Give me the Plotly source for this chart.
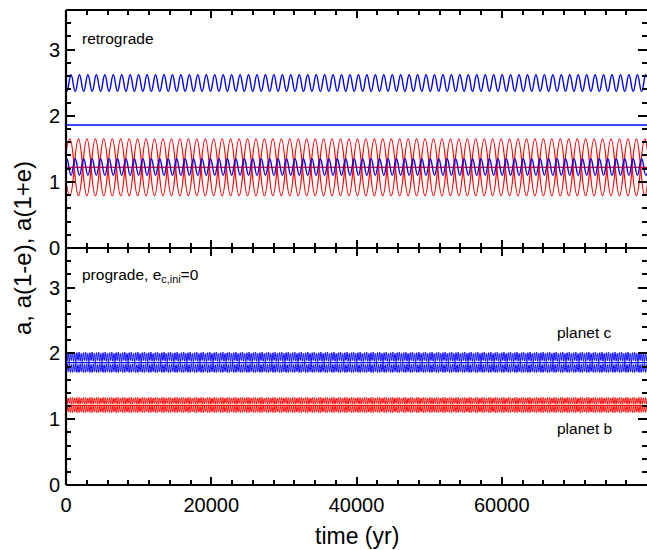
import plotly.graph_objects as go

# ---------------- data ----------------
x_tick_vals = [0, 20000, 40000, 60000]
x_tick_text = ["0", "20000", "40000", "60000"]
y_tick_vals = [0, 1, 2, 3]
y_tick_text = ["0", "1", "2", "3"]

# Retrograde panel: successive extremes (every half oscillation)
retro_c_half_period = 582        # yr between successive extremes, planet c
retro_c_n_half = 140
retro_c_apo_ext = [2.62, 2.37]   # planet c, a(1+e)
retro_c_peri_ext = [1.10, 1.35]  # planet c, a(1-e)
retro_c_a = [1.86, 1.86]         # planet c, a
retro_b_half_period = 1164       # yr between successive extremes, planet b
retro_b_n_half = 72
retro_b_apo_ext = [1.65, 0.79]   # planet b, a(1+e)
retro_b_peri_ext = [0.79, 1.65]  # planet b, a(1-e)
retro_b_a = [1.22, 1.22]         # planet b, a
time_span = [0, 80000]

# Prograde panel (e_c,ini = 0): fast oscillations forming bands
pro_half_period = 150
pro_n_half = 540
pro_c_apo_ext = [2.02, 1.88, 2.00, 1.87, 2.01, 1.89]
pro_c_peri_ext = [1.71, 1.84, 1.72, 1.85, 1.71, 1.83]
pro_c_a = [1.86, 1.86]
pro_b_apo_ext = [1.33, 1.23, 1.32, 1.24, 1.33, 1.23]
pro_b_peri_ext = [1.10, 1.20, 1.11, 1.21, 1.10, 1.20]
pro_b_a = [1.21, 1.21]

BLUE = "#0000ff"
RED = "#ff0000"
FONT = "Liberation Sans"


def rep(ext, n):
    out = []
    while len(out) < n:
        out.extend(ext)
    return out[:n]


fig = go.Figure()


def osc(y_ext, n, x0, dx, color, xa, ya, width=1.2):
    fig.add_trace(go.Scatter(
        x0=x0, dx=dx, y=rep(y_ext, n), mode="lines",
        line=dict(color=color, width=width, shape="spline", smoothing=1.3),
        xaxis=xa, yaxis=ya, showlegend=False, hoverinfo="skip"))


def flat(y_vals, color, xa, ya, width=1.2):
    fig.add_trace(go.Scatter(
        x=time_span, y=y_vals, mode="lines",
        line=dict(color=color, width=width),
        xaxis=xa, yaxis=ya, showlegend=False, hoverinfo="skip"))


# top panel (retrograde) -> x2 / y2
osc(retro_b_apo_ext, retro_b_n_half, -614, retro_b_half_period, RED, "x2", "y2")
osc(retro_b_peri_ext, retro_b_n_half, -614, retro_b_half_period, RED, "x2", "y2")
flat(retro_b_a, RED, "x2", "y2")
osc(retro_c_apo_ext, retro_c_n_half, -474, retro_c_half_period, BLUE, "x2", "y2", width=1.4)
osc(retro_c_peri_ext, retro_c_n_half, -474, retro_c_half_period, BLUE, "x2", "y2", width=1.4)
flat(retro_c_a, BLUE, "x2", "y2", width=1.4)

# bottom panel (prograde) -> x / y
osc(pro_c_apo_ext, pro_n_half, 0, pro_half_period, BLUE, "x", "y", width=1.0)
osc(pro_c_peri_ext, pro_n_half, 0, pro_half_period, BLUE, "x", "y", width=1.0)
flat(pro_c_a, BLUE, "x", "y", width=1.2)
osc(pro_b_apo_ext, pro_n_half, 0, pro_half_period, RED, "x", "y", width=1.0)
osc(pro_b_peri_ext, pro_n_half, 0, pro_half_period, RED, "x", "y", width=1.0)
flat(pro_b_a, RED, "x", "y", width=1.2)

split = 237 / 475

tickfont = dict(family=FONT, size=20, color="black")
common_x = dict(range=time_span, ticks="inside", ticklen=8, tickwidth=1.5,
                tickcolor="black", showline=False, mirror="ticks",
                showgrid=False, zeroline=False, automargin=False,
                tickmode="array", tickvals=x_tick_vals, ticktext=x_tick_text,
                minor=dict(dtick=20000 / 7, tick0=0, ticks="inside", ticklen=5,
                           tickwidth=1.5, tickcolor="black"))
common_y = dict(range=[0, 3.6], ticks="inside", ticklen=9, tickwidth=1.5,
                tickcolor="black", showline=False, mirror="ticks",
                showgrid=False, zeroline=False, automargin=False,
                tickmode="array", tickvals=y_tick_vals, ticktext=y_tick_text,
                tickfont=tickfont, ticklabelstandoff=5,
                minor=dict(dtick=0.2, tick0=0, ticks="inside", ticklen=5,
                           tickwidth=1.5, tickcolor="black"))

fig.update_layout(
    width=647, height=550,
    margin=dict(l=66, r=0, t=10, b=65, autoexpand=False),
    paper_bgcolor="white", plot_bgcolor="white",
    xaxis=dict(domain=[0, 1], anchor="y", showticklabels=True,
               tickfont=tickfont, ticklabelstandoff=6, **common_x),
    xaxis2=dict(domain=[0, 1], anchor="y2", matches="x", showticklabels=False,
                **common_x),
    yaxis=dict(domain=[0, split], anchor="x", **common_y),
    yaxis2=dict(domain=[split, 1], anchor="x2", **common_y),
)

# frame lines
for (x0, y0, x1, y1) in [(0, 0, 0, 1), (0, 1, 1, 1), (0, split, 1, split), (0, 0, 1, 0)]:
    fig.add_shape(type="line", xref="paper", yref="paper", x0=x0, y0=y0, x1=x1, y1=y1,
                  line=dict(color="black", width=2.2), layer="above")

annfont = dict(family=FONT, size=15.5, color="black")
fig.add_annotation(xref="paper", yref="paper", x=0.024, y=(485 - 38) / 475,
                   text="retrograde", showarrow=False, xanchor="left", yanchor="middle",
                   font=annfont)
fig.add_annotation(xref="paper", yref="paper", x=0.024, y=(485 - 275) / 475,
                   text="prograde, e<sub>c,ini</sub>=0", showarrow=False,
                   xanchor="left", yanchor="middle", font=annfont)
fig.add_annotation(xref="paper", yref="paper", x=(614 - 66) / 581, y=(485 - 333) / 475,
                   text="planet c", showarrow=False, xanchor="right", yanchor="middle",
                   font=annfont)
fig.add_annotation(xref="paper", yref="paper", x=(614 - 66) / 581, y=(485 - 428) / 475,
                   text="planet b", showarrow=False, xanchor="right", yanchor="middle",
                   font=annfont)
fig.add_annotation(xref="paper", yref="paper", x=0.5, y=(485 - 536) / 475,
                   text="time (yr)", showarrow=False, xanchor="center", yanchor="middle",
                   font=dict(family=FONT, size=23, color="black"))
fig.add_annotation(xref="paper", yref="paper", x=(22 - 66) / 581, y=(485 - 248) / 475,
                   text="a, a(1-e), a(1+e)", showarrow=False, textangle=-90,
                   xanchor="center", yanchor="middle",
                   font=dict(family=FONT, size=24, color="black"))

fig.write_html(
    "out.html",
    config={"displayModeBar": False},
    post_script="document.body.style.margin='0';document.body.style.overflow='hidden';",
)
